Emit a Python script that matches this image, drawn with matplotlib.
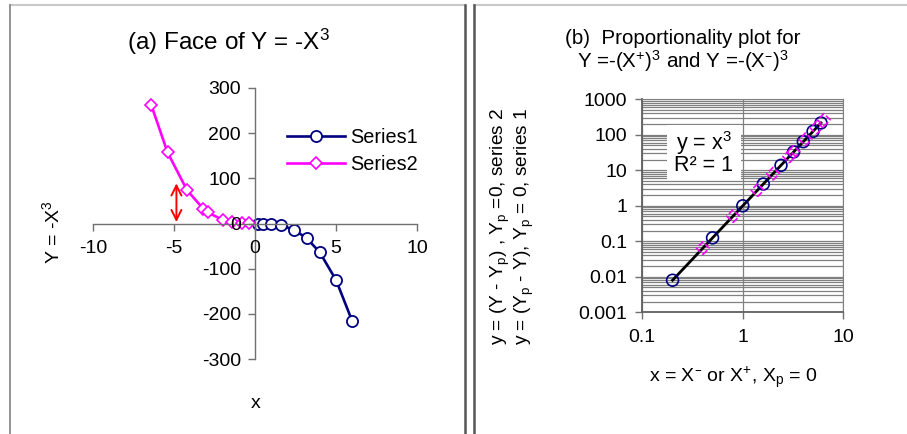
import numpy as np
import matplotlib
matplotlib.use('Agg')
import matplotlib.pyplot as plt
from matplotlib.lines import Line2D
from matplotlib.patches import Rectangle
from matplotlib.ticker import FixedLocator, NullFormatter

plt.rcParams['font.family'] = ['Liberation Sans', 'DejaVu Sans']
plt.rcParams['mathtext.default'] = 'regular'
plt.rcParams['axes.unicode_minus'] = False

# Serie 1: X positivo, Y = -X^3
x1 = [0.2, 0.5, 1.0, 1.6, 2.4, 3.2, 4.0, 5.0, 6.0]
y1 = [-0.008, -0.125, -1.0, -4.1, -13.8, -32.8, -64.0, -125.0, -216.0]
# Serie 2: X negativo
x2 = [-6.4, -5.4, -4.2, -3.2, -2.9, -2.0, -1.4, -0.8, -0.4]
y2 = [262.1, 157.5, 74.1, 32.8, 24.4, 8.0, 2.74, 0.512, 0.064]

# linha de ajuste y = x^3
fit_x = [0.2, 6.0]
fit_y = [0.008, 216.0]

xticks_a = [-10, -5, 0, 5, 10]
yticks_a = [-300, -200, -100, 0, 100, 200, 300]
yticks_b = [0.001, 0.01, 0.1, 1, 10, 100, 1000]
ylabels_b = ['0.001', '0.01', '0.1', '1', '10', '100', '1000']
xticks_b = [0.1, 1, 10]
xlabels_b = ['0.1', '1', '10']

navy = '#000080'
mag = '#FF00FF'
W, H = 907, 434
SUP_M = '$^{\u2013}$'   # traco curto sobrescrito, sem espaco de operador
SUP_P = '$^{+}$'

fig = plt.figure(figsize=(W / 100, H / 100), dpi=100)

def fx(px):
    return px / W

def fy(py):
    return 1 - py / H

# molduras
fig.add_artist(Line2D([fx(10), fx(465)], [fy(5), fy(5)], color='#c8c8c8', lw=1.5))
fig.add_artist(Line2D([fx(474), fx(907)], [fy(5), fy(5)], color='#c8c8c8', lw=1.5))
fig.add_artist(Line2D([fx(10), fx(10)], [fy(5), 0], color='#8a8a8a', lw=1.3))
fig.add_artist(Line2D([fx(465), fx(465)], [fy(5), 0], color='#555555', lw=1.8))
fig.add_artist(Line2D([fx(474), fx(474)], [fy(5), 0], color='#555555', lw=1.8))

# ---------------- (a) ----------------
ax = fig.add_axes([fx(93), fy(359), fx(417) - fx(93), fy(88) - fy(359)])
ax.set_xlim(-10, 10)
ax.set_ylim(-300, 300)
for s in ['top', 'right']:
    ax.spines[s].set_visible(False)
ax.spines['left'].set_position(('data', 0))
ax.spines['bottom'].set_position(('data', 0))
for s in ['left', 'bottom']:
    ax.spines[s].set_color('#707070')
    ax.spines[s].set_linewidth(1.0)
ax.set_xticks(xticks_a)
ax.set_yticks(yticks_a)
ax.tick_params(direction='out', length=5, width=1, color='#707070', labelsize=14)
ax.tick_params(axis='y', pad=5)
ax.tick_params(axis='x', pad=7)
ax.set_axisbelow(False)
ax.patch.set_alpha(0)

ax.plot(x1, y1, color=navy, lw=1.9, marker='o', ms=8, mfc='white', mec=navy, mew=1.3,
        label='Series1', clip_on=False)
ax.plot(x2, y2, color=mag, lw=1.9, marker='D', ms=6.5, mfc='white', mec=mag, mew=1.2,
        label='Series2', clip_on=False)
ax.annotate('', xy=(-4.85, 95), xytext=(-4.85, -3),
            arrowprops=dict(arrowstyle='<->', color='red', lw=1.4, mutation_scale=18))

ax.legend(loc='upper left', bbox_to_anchor=(fx(287), fy(128)), bbox_transform=fig.transFigure,
          frameon=False, fontsize=14.3, handlelength=2.9, borderpad=0, borderaxespad=0,
          labelspacing=0.4, handletextpad=0.3)

fig.text(fx(229), fy(42), '(a) Face of Y = -X$^3$', fontsize=17.5, ha='center', va='center')
fig.text(fx(52), fy(232), 'Y = -X$^3$', fontsize=14, ha='center', va='center', rotation=90)
fig.text(fx(256), fy(403), 'x', fontsize=14, ha='center', va='center')

# ---------------- (b) ----------------
bx = fig.add_axes([fx(642.3), fy(312.3), fx(843.3) - fx(642.3), fy(99.3) - fy(312.3)])
bx.set_xscale('log')
bx.set_yscale('log')
bx.set_xlim(0.1, 10)
bx.set_ylim(0.001, 1000)
bx.set_yticks(yticks_b)
bx.set_yticklabels(ylabels_b)
bx.set_xticks(xticks_b)
bx.set_xticklabels(xlabels_b)
minors = [m * 10.0 ** e for e in range(-3, 3) for m in range(2, 10)]
bx.yaxis.set_minor_locator(FixedLocator(minors))
bx.yaxis.set_minor_formatter(NullFormatter())
bx.xaxis.set_minor_locator(FixedLocator([]))
bx.tick_params(which='minor', length=0)
bx.tick_params(which='major', direction='out', length=5, width=1, color='#707070', labelsize=14)
bx.tick_params(axis='y', pad=6)
bx.tick_params(axis='x', pad=7)
bx.set_axisbelow(True)
bx.yaxis.grid(True, which='both', color='#808080', lw=0.9)
bx.xaxis.grid(True, which='major', color='#808080', lw=0.9)
for s in bx.spines.values():
    s.set_color('#808080')
for s in ['left', 'bottom']:
    bx.spines[s].set_color('#606060')
    bx.spines[s].set_linewidth(1.3)

bx.add_patch(Rectangle((0.123, 0.621), 0.367, 0.258, transform=bx.transAxes,
                       facecolor='white', edgecolor='none', zorder=1.5))
bx.text(0.306, 0.795, 'y = x$^3$', transform=bx.transAxes, fontsize=15.5,
        ha='center', va='center', zorder=3)
bx.text(0.306, 0.688, 'R² = 1', transform=bx.transAxes, fontsize=15.5,
        ha='center', va='center', zorder=3)

bx.plot(fit_x, fit_y, color='black', lw=2.0, zorder=3)
bx.scatter(x1, [-v for v in y1], s=8.5 ** 2, marker='o', facecolors='none',
           edgecolors=navy, linewidths=1.2, zorder=4, clip_on=False)
bx.scatter([-v for v in x2], y2, s=6.5 ** 2, marker='D', facecolors='none',
           edgecolors=mag, linewidths=1.2, linestyles='--', zorder=4, clip_on=False)

fig.text(fx(683), fy(38), '(b)  Proportionality plot for', fontsize=14.8, ha='center', va='center')
fig.text(fx(683), fy(61), 'Y =-(X' + SUP_P + ')$^3$ and Y =-(X' + SUP_M + ')$^3$', fontsize=14.8,
         ha='center', va='center')
fig.text(fx(500), fy(226), 'y = (Y - Y$_p$) , Y$_p$ =0, series 2', fontsize=13.8,
         ha='center', va='center', rotation=90)
fig.text(fx(524), fy(226), 'y = (Y$_p$ - Y), Y$_p$ = 0, series 1', fontsize=13.8,
         ha='center', va='center', rotation=90)
fig.text(fx(733), fy(377), 'x = X' + SUP_M + ' or X' + SUP_P + ', X$_p$ = 0', fontsize=14,
         ha='center', va='center')

fig.savefig('out.png', dpi=100)
